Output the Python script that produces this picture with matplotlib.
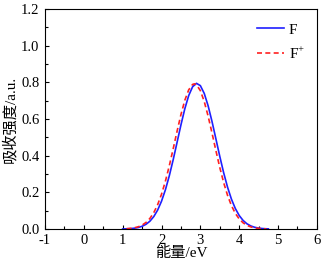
import matplotlib
matplotlib.use("Agg")
import matplotlib.pyplot as plt
from matplotlib.ticker import MultipleLocator

energy_F = [1.0, 1.1, 1.2, 1.3, 1.4, 1.5, 1.6, 1.7, 1.8, 1.9, 2.0, 2.1, 2.2, 2.3, 2.4,
            2.5, 2.6, 2.7, 2.8, 2.9, 3.0, 3.1, 3.2, 3.3, 3.4, 3.5, 3.6, 3.7, 3.8, 3.9,
            4.0, 4.1, 4.2, 4.3, 4.4, 4.5, 4.6, 4.7, 4.75]
absorb_F = [0.0005, 0.0011, 0.0023, 0.0045, 0.0083, 0.0149, 0.0257, 0.0425, 0.0677, 0.1034,
            0.1518, 0.2141, 0.2901, 0.3778, 0.4726, 0.5681, 0.6561, 0.7281, 0.7760, 0.7948,
            0.7822, 0.7396, 0.6719, 0.5865, 0.4919, 0.3963, 0.3068, 0.2282, 0.1631, 0.1119,
            0.0739, 0.0468, 0.0285, 0.0167, 0.0094, 0.0051, 0.0026, 0.0013, 0.0009]

energy_Fp = [1.1, 1.2, 1.3, 1.4, 1.5, 1.6, 1.7, 1.8, 1.9, 2.0, 2.1, 2.2, 2.3, 2.4,
             2.5, 2.6, 2.7, 2.8, 2.85, 2.9, 3.0, 3.1, 3.2, 3.3, 3.4, 3.5, 3.6, 3.7, 3.8,
             3.9, 4.0, 4.1, 4.2, 4.3, 4.4, 4.5, 4.6, 4.7]
absorb_Fp = [0.0018, 0.0035, 0.0067, 0.0122, 0.0213, 0.0357, 0.0575, 0.0892, 0.1327,
             0.1899, 0.2610, 0.3447, 0.4373, 0.5330, 0.6243, 0.7024, 0.7594, 0.7888, 0.7920,
             0.7872, 0.7549, 0.6955, 0.6156, 0.5235, 0.4278, 0.3358, 0.2533, 0.1836, 0.1278,
             0.0855, 0.0550, 0.0340, 0.0201, 0.0115, 0.0063, 0.0033, 0.0017, 0.0008]

x_ticks = [-1, 0, 1, 2, 3, 4, 5, 6]
y_ticks = [0.0, 0.2, 0.4, 0.6, 0.8, 1.0, 1.2]

fam = ['Liberation Serif', 'Noto Sans CJK SC']
plt.rcParams['font.family'] = fam
plt.rcParams['mathtext.fontset'] = 'custom'
plt.rcParams['mathtext.rm'] = 'Liberation Serif'

fig = plt.figure(figsize=(3.25, 2.66), dpi=100)
ax = fig.add_axes([0.1385, 0.139, 0.8365, 0.827])

ax.plot(energy_F, absorb_F, color='#1f1fff', lw=1.2, label='F')
ax.plot(energy_Fp, absorb_Fp, color='#ff2020', lw=1.2, ls=(0, (3, 2)), label='F$^{+}$')

ax.set_xlim(-1, 6)
ax.set_ylim(0, 1.2)
ax.set_xticks(x_ticks)
ax.set_yticks(y_ticks)
ax.set_xticklabels([str(v) for v in x_ticks])
ax.set_yticklabels([f"{v:.1f}" for v in y_ticks])
ax.xaxis.set_minor_locator(MultipleLocator(0.5))
ax.yaxis.set_minor_locator(MultipleLocator(0.1))
ax.tick_params(which='major', direction='in', length=3, width=0.8, labelsize=10.5)
ax.tick_params(axis='x', which='major', pad=3.5)
ax.tick_params(axis='y', which='major', pad=4)
ax.tick_params(which='minor', direction='in', length=2, width=0.8)
for s in ax.spines.values():
    s.set_linewidth(0.8)

ax.set_xlabel('能量/eV', fontsize=11, labelpad=-1)
ax.set_ylabel('吸收强度/a.u.', fontsize=11, labelpad=3)

ax.legend(loc='upper right', bbox_to_anchor=(0.995, 0.985), frameon=False, fontsize=11,
          handlelength=1.8, handletextpad=0.3, labelspacing=0.55, borderaxespad=0.3)

fig.savefig('out.png', dpi=100)
